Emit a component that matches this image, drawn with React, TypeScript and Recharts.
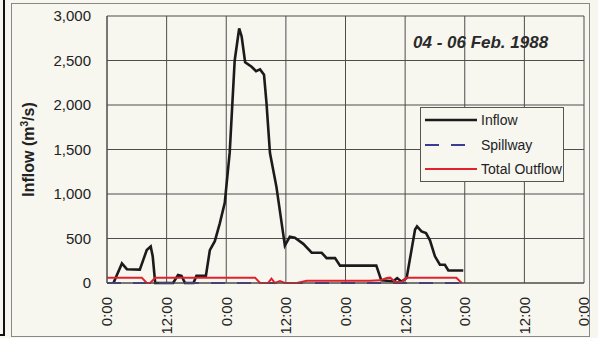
import React from "react";
import { CartesianGrid, Legend, Line, LineChart, XAxis, YAxis } from "recharts";

// hours since 04 Feb 0:00, flow in m3/s
const inflowHours = [1.3, 3.0, 4.0, 6.6, 7.3, 8.0, 8.8, 9.2, 9.7, 13.3, 14.3, 15.0, 15.7, 17.4, 18.0, 19.9, 20.7, 21.7, 22.7, 23.7, 24.7, 25.7, 26.6, 27.1, 27.8, 29.1, 30.0, 30.8, 31.6, 32.1, 32.8, 34.1, 35.8, 36.8, 37.8, 39.5, 41.2, 43.2, 44.2, 45.9, 46.9, 54.2, 55.2, 57.6, 58.4, 59.3, 60.3, 61.0, 62.0, 62.4, 63.3, 64.2, 65.0, 66.0, 67.0, 68.0, 68.7, 71.7];
const inflowValues = [0, 220, 155, 150, 260, 370, 410, 300, 0, 0, 90, 80, 0, 0, 80, 80, 370, 470, 670, 900, 1470, 2500, 2860, 2770, 2480, 2430, 2380, 2400, 2340, 2020, 1460, 1080, 420, 520, 510, 440, 340, 340, 280, 280, 195, 195, 30, 20, 55, 15, 55, 280, 600, 635, 580, 560, 480, 300, 205, 205, 140, 140];

const spillwayHours = [0, 71];
const spillwayValues = [0, 0];

const outflowHours = [0, 7.0, 8.0, 8.7, 9.7, 29.8, 30.8, 32.4, 33.1, 33.8, 34.8, 35.8, 38.2, 40.2, 52.9, 54.9, 56.3, 57.0, 58.0, 59.3, 60.3, 70.3, 71.4];
const outflowValues = [60, 60, 0, 0, 60, 60, 0, 0, 50, 0, 22, 0, 0, 25, 25, 30, 55, 60, 10, 10, 60, 60, 0];

const hourTicks = [0, 12, 24, 36, 48, 60, 72, 84, 96];
const hourLabels = ["0:00", "12:00", "0:00", "12:00", "0:00", "12:00", "0:00", "12:00", "0:00"];
const flowTicks = [0, 500, 1000, 1500, 2000, 2500, 3000];

const toPoints = (hours: number[], values: number[]) => hours.map((h, i) => ({ hour: h, flow: values[i] }));

const inflowData = toPoints(inflowHours, inflowValues);
const spillwayData = toPoints(spillwayHours, spillwayValues);
const outflowData = toPoints(outflowHours, outflowValues);

const FONT = "'Liberation Sans', Arial, Helvetica, sans-serif";
const BG = "#f7f6ef";
const GRID = "#4d4d4d";

const seriesStyle: Record<string, { color: string; width: number; dash?: string }> = {
  Inflow: { color: "#1b1b1b", width: 2.6 },
  Spillway: { color: "#3b3c96", width: 2, dash: "14 12" },
  "Total Outflow": { color: "#e1222c", width: 2 },
};

function HourTick({ x, y, payload }: any) {
  const label = hourLabels[hourTicks.indexOf(payload.value)];
  return (
    <text
      x={x}
      y={y}
      dy="0.36em"
      textAnchor="end"
      transform={`rotate(-90, ${x}, ${y})`}
      fontSize={15}
      fill="#222"
      fontFamily={FONT}
    >
      {label}
    </text>
  );
}

function FlowTitle({ viewBox }: any) {
  const cx = viewBox.x + 28;
  const cy = viewBox.y + viewBox.height / 2;
  return (
    <text
      x={cx}
      y={cy}
      dy="0.36em"
      textAnchor="middle"
      transform={`rotate(-90, ${cx}, ${cy})`}
      fontSize={16}
      fontWeight="bold"
      fill="#222"
      fontFamily={FONT}
    >
      Inflow (m
      <tspan dy="-6" fontSize={10}>3</tspan>
      <tspan dy="6">/s)</tspan>
    </text>
  );
}

function LegendBox({ payload }: any) {
  return (
    <div
      style={{
        width: 144,
        height: 75,
        boxSizing: "border-box",
        border: "1px solid #555",
        background: BG,
        padding: "0 0 0 4px",
        fontFamily: FONT,
        fontSize: 14,
        color: "#222",
      }}
    >
      {(payload || []).map((item: any) => {
        const s = seriesStyle[item.value];
        return (
          <div key={item.value} style={{ display: "flex", alignItems: "center", height: 24.5 }}>
            <svg width={52} height={6}>
              <line x1={0} y1={3} x2={52} y2={3} stroke={s.color} strokeWidth={s.width} strokeDasharray={s.dash} />
            </svg>
            <span style={{ marginLeft: 4 }}>{item.value}</span>
          </div>
        );
      })}
    </div>
  );
}

export default function App() {
  return (
    <div style={{ position: "absolute", left: 0, top: 0, width: 598, height: 338, background: BG, overflow: "hidden" }}>
      {/* frame of the neighbouring figure and chart border */}
      <div style={{ position: "absolute", left: 3, top: 0, width: 2, height: 336, background: "#111" }} />
      <div style={{ position: "absolute", left: 0, top: 334, width: 5, height: 2, background: "#111" }} />
      <div style={{ position: "absolute", left: 11, top: 3, width: 577, height: 332, border: "1px solid #888" }} />

      <LineChart width={598} height={338} margin={{ top: 16, right: 14, left: 0, bottom: 0 }}>
        <CartesianGrid stroke={GRID} strokeWidth={1} />
        <XAxis
          type="number"
          dataKey="hour"
          domain={[0, 96]}
          ticks={hourTicks}
          height={55}
          tickLine={false}
          tickSize={6}
          tickMargin={8}
          axisLine={{ stroke: GRID }}
          tick={<HourTick />}
          interval={0}
        />
        <YAxis
          type="number"
          domain={[0, 3000]}
          ticks={flowTicks}
          width={107}
          tickLine={false}
          tickSize={6}
          tickMargin={10}
          axisLine={{ stroke: GRID }}
          tick={{ fontSize: 15, fill: "#222", fontFamily: FONT }}
          tickFormatter={(v: number) => v.toLocaleString("en-US")}
          label={<FlowTitle />}
          interval={0}
        />
        <Legend
          layout="vertical"
          align="center"
          verticalAlign="middle"
          content={<LegendBox />}
          wrapperStyle={{ left: 420, top: 107, width: 144 }}
        />
        <Line
          name="Inflow"
          data={inflowData}
          dataKey="flow"
          type="linear"
          stroke={seriesStyle.Inflow.color}
          strokeWidth={seriesStyle.Inflow.width}
          dot={false}
          isAnimationActive={false}
        />
        <Line
          name="Spillway"
          data={spillwayData}
          dataKey="flow"
          type="linear"
          stroke={seriesStyle.Spillway.color}
          strokeWidth={seriesStyle.Spillway.width}
          strokeDasharray={seriesStyle.Spillway.dash}
          dot={false}
          isAnimationActive={false}
        />
        <Line
          name="Total Outflow"
          data={outflowData}
          dataKey="flow"
          type="linear"
          stroke={seriesStyle["Total Outflow"].color}
          strokeWidth={seriesStyle["Total Outflow"].width}
          dot={false}
          isAnimationActive={false}
        />
      </LineChart>

      <div
        style={{
          position: "absolute",
          left: 413,
          top: 33,
          fontFamily: FONT,
          fontSize: 17,
          fontWeight: "bold",
          fontStyle: "italic",
          color: "#2a2a2a",
          whiteSpace: "nowrap",
        }}
      >
        04 - 06 Feb. 1988
      </div>
    </div>
  );
}
